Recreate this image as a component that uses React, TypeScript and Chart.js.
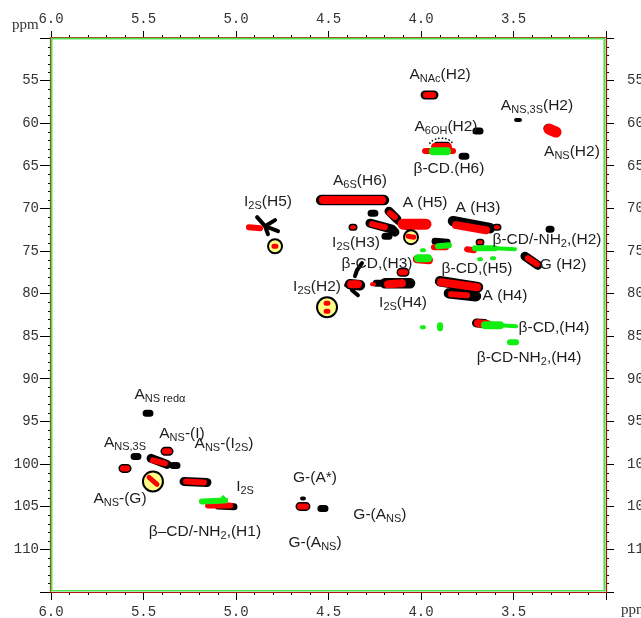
import React, { useEffect, useRef } from 'react';
import { Chart, registerables } from 'chart.js';

Chart.register(...registerables);

type Seg = [number, number, number, number];
type Pt = [number, number];

// ---- axis ranges / ticks (ppm) ----
const xRange: [number, number] = [3.0, 6.0]; // 1H
const yRange: [number, number] = [50, 115]; // 13C
const xMajorStep = 0.5;
const xMinorStep = 0.1;
const yMajorStep = 5;
const yMinorStep = 1;

// ---- cross peaks: [x1(ppm 1H), y1(ppm 13C), x2, y2] ----
const blackPeaksXL: Seg[] = [
  [3.897, 78.54, 3.692, 79.24],
  [3.849, 79.95, 3.703, 80.3],
  [3.827, 71.49, 3.627, 72.31],
  [4.384, 78.89, 4.33, 79.01],
  [4.195, 78.77, 4.059, 78.77],
  [4.54, 69.02, 4.2, 69.02],
];
const blackPeaksL: Seg[] = [
  [3.978, 56.69, 3.93, 56.69],
  [3.314, 60.6, 3.27, 61.0],
  [4.276, 71.73, 4.157, 72.43],
  [4.157, 72.43, 4.141, 72.78],
  [4.173, 70.32, 4.13, 71.26],
  [3.438, 75.6, 3.368, 76.66],
  [5.459, 99.32, 5.373, 100.03],
  [5.281, 102.03, 5.157, 102.14],
  [5.611, 100.5, 5.589, 100.5],
  [5.384, 98.5, 5.362, 98.5],
  [4.654, 104.96, 4.622, 104.96],
  [4.108, 77.48, 4.086, 77.48],
  [3.7, 83.45, 3.655, 83.5],
];
const blackPeaksM: Seg[] = [
  [4.27, 70.55, 4.249, 70.55],
  [4.195, 73.25, 4.173, 73.25],
  [4.373, 72.2, 4.362, 72.2],
  [3.703, 60.92, 3.681, 60.92],
  [3.778, 63.86, 3.757, 63.86],
  [3.914, 62.57, 3.859, 62.57],
  [5.486, 94.04, 5.465, 94.04],
  [5.551, 99.09, 5.53, 99.09],
  [5.341, 100.15, 5.319, 100.15],
  [4.243, 78.77, 4.221, 78.77],
  [3.595, 72.2, 3.584, 72.2],
  [3.308, 72.43, 3.297, 72.43],
  [3.686, 73.96, 3.676, 73.96],
  [3.924, 73.84, 3.859, 73.96],
  [4.541, 105.2, 4.519, 105.2],
  [5.097, 104.9, 5.011, 105.0],
];
const blackPeaksS: Seg[] = [
  [4.886, 71.02, 4.843, 72.08],
  [4.843, 72.08, 4.789, 71.37],
  [4.843, 72.08, 4.773, 72.67],
  [4.843, 72.08, 4.827, 73.02],
  [3.486, 59.63, 3.465, 59.63],
  [4.319, 76.42, 4.346, 77.25],
  [4.346, 77.25, 4.357, 77.95],
  [4.405, 79.0, 4.395, 79.0],
  [4.373, 79.6, 4.341, 80.18],
  [4.13, 71.61, 4.059, 72.55],
  [4.643, 104.02, 4.633, 104.02],
];

const redPeaksXL: Seg[] = [
  [4.097, 71.84, 3.973, 71.84],
  [3.308, 60.69, 3.27, 61.04],
];
const redPeaksL: Seg[] = [
  [3.892, 78.66, 3.697, 79.24],
  [3.811, 71.96, 3.649, 72.55],
  [4.53, 69.02, 4.211, 69.02],
  [4.178, 78.89, 4.103, 78.77],
  [3.924, 62.8, 3.854, 62.8],
  [3.692, 83.47, 3.638, 83.59],
  [4.022, 75.95, 3.957, 76.07],
  [4.378, 78.89, 4.341, 78.89],
];
const redPeaksM: Seg[] = [
  [3.973, 56.69, 3.935, 56.69],
  [4.265, 71.84, 4.195, 72.2],
  [4.168, 70.55, 4.141, 71.02],
  [4.93, 72.2, 4.87, 72.31],
  [3.978, 63.27, 3.827, 63.27],
  [3.751, 74.78, 3.714, 74.9],
  [3.93, 74.54, 3.865, 74.54],
  [3.838, 80.06, 3.751, 80.18],
  [3.422, 75.84, 3.373, 76.54],
  [4.108, 77.48, 4.086, 77.48],
  [5.449, 99.56, 5.384, 99.91],
  [5.27, 102.03, 5.173, 102.14],
  [5.611, 100.5, 5.589, 100.5],
  [5.384, 98.5, 5.362, 98.5],
  [4.654, 104.96, 4.622, 104.96],
  [5.151, 104.84, 5.032, 104.84],
];
const redPeaksS: Seg[] = [
  [4.373, 72.2, 4.362, 72.2],
  [3.595, 72.2, 3.584, 72.2],
  [3.686, 73.96, 3.676, 73.96],
  [4.265, 78.89, 4.254, 78.89],
];
const redPeaksInCircles: Seg[] = [
  [4.795, 74.43, 4.784, 74.43],
  [4.07, 73.25, 4.038, 73.37],
  [4.513, 81.12, 4.503, 81.12],
  [4.513, 82.06, 4.503, 82.06],
  [5.47, 101.56, 5.427, 102.38],
];

const greenPeaksL: Seg[] = [
  [4.016, 75.84, 3.962, 75.84],
  [3.654, 83.7, 3.573, 83.7],
  [3.935, 63.3, 3.86, 63.3],
];
const greenPeaksM: Seg[] = [
  [3.908, 74.43, 3.849, 74.31],
  [3.708, 74.66, 3.6, 74.66],
  [5.184, 104.37, 5.059, 104.26],
  [3.519, 85.7, 3.486, 85.7],
  [3.897, 83.7, 3.897, 84.06],
];
const greenPeaksS: Seg[] = [
  [3.6, 74.66, 3.492, 74.78],
  [3.686, 75.95, 3.676, 75.95],
  [3.616, 75.84, 3.605, 75.84],
  [3.995, 74.9, 3.984, 74.9],
  [3.995, 83.94, 3.984, 83.94],
  [3.573, 83.7, 3.486, 83.82],
  [5.07, 103.9, 5.06, 104.3],
];

// highlighted (circled) signals
const circledSmall: Pt[] = [
  [4.789, 74.43],
  [4.054, 73.37],
];
const circledLarge: Pt[] = [
  [4.508, 81.59],
  [5.449, 102.03],
];

// dotted envelope over A6OH(H2)
const dottedArc: Pt[] = [
  [3.955, 62.4],
  [3.93, 61.95],
  [3.89, 61.75],
  [3.85, 61.95],
  [3.825, 62.4],
];

// ---- assignments: text, x (ppm), y (ppm) of text centre ----
const labelTexts: string[] = [
  'A_{NAc}(H2)', 'A_{NS,3S}(H2)', 'A_{6OH}(H2)', 'β-CD.(H6)', 'A_{NS}(H2)',
  'A_{6S}(H6)', 'I_{2S}(H5)', 'A (H5)', 'A (H3)', 'β-CD/-NH_{2},(H2)',
  'I_{2S}(H3)', 'G (H2)', 'β-CD,(H3)', 'β-CD,(H5)', 'I_{2S}(H2)',
  'I_{2S}(H4)', 'A (H4)', 'β-CD,(H4)', 'β-CD-NH_{2},(H4)', 'A_{NS redα}',
  'A_{NS,3S}', 'A_{NS}-(I)', 'A_{NS}-(I_{2S})', 'I_{2S}', 'A_{NS}-(G)',
  'β–CD/-NH_{2},(H1)', 'G-(A*)', 'G-(A_{NS})', 'G-(A_{NS})',
];
const labelX: number[] = [
  3.897, 3.373, 3.865, 3.849, 3.184,
  4.33, 4.827, 3.978, 3.692, 3.319,
  4.351, 3.232, 4.238, 3.697, 4.562,
  4.097, 3.546, 3.281, 3.416, 5.411,
  5.6, 5.292, 5.065, 4.951, 5.627,
  5.168, 4.573, 4.222, 4.573,
];
const labelY: number[] = [
  54.11, 57.75, 60.22, 65.15, 63.15,
  66.56, 69.03, 69.14, 69.73, 73.49,
  73.84, 76.42, 76.31, 76.89, 79.01,
  80.89, 80.06, 83.82, 87.35, 91.69,
  97.33, 96.27, 97.45, 102.5, 103.9,
  107.78, 101.44, 105.78, 109.07,
];

const segData = (segs: Seg[]) =>
  segs.flatMap(([x1, y1, x2, y2]) => [
    { x: x1, y: y1 },
    { x: x2, y: y2 },
    { x: x2, y: null as any },
  ]);

const peakSet = (data: Seg[], color: string, width: number, order: number) => ({
  data: segData(data),
  borderColor: color,
  backgroundColor: color,
  borderWidth: width,
  borderCapStyle: 'round',
  borderJoinStyle: 'round',
  pointRadius: 0,
  pointHoverRadius: 0,
  fill: false,
  tension: 0,
  spanGaps: false,
  order,
});

const circleSet = (pts: Pt[], r: number, order: number) => ({
  data: pts.map(([x, y]) => ({ x, y })),
  showLine: false,
  pointStyle: 'circle',
  pointRadius: r,
  pointHoverRadius: r,
  pointBorderWidth: 2,
  pointBackgroundColor: '#ffff88',
  pointBorderColor: '#000',
  order,
});

const TICK_FONT = { family: '"Liberation Mono", "DejaVu Sans Mono", monospace', size: 14 };
const TICK_COLOR = '#333';

function drawRich(ctx: CanvasRenderingContext2D, text: string, cx: number, cy: number) {
  const parts: { t: string; sub: boolean }[] = [];
  let i = 0;
  let buf = '';
  while (i < text.length) {
    if (text[i] === '_' && text[i + 1] === '{') {
      if (buf) parts.push({ t: buf, sub: false });
      buf = '';
      const j = text.indexOf('}', i);
      parts.push({ t: text.slice(i + 2, j), sub: true });
      i = j + 1;
    } else {
      buf += text[i];
      i++;
    }
  }
  if (buf) parts.push({ t: buf, sub: false });
  const MAIN = '15.5px "Liberation Sans", Arial, sans-serif';
  const SUB = '11px "Liberation Sans", Arial, sans-serif';
  let total = 0;
  const ws = parts.map((p) => {
    ctx.font = p.sub ? SUB : MAIN;
    const w = ctx.measureText(p.t).width;
    total += w;
    return w;
  });
  let x = cx - total / 2;
  const base = cy + 5.5;
  ctx.textAlign = 'left';
  ctx.textBaseline = 'alphabetic';
  ctx.fillStyle = '#1e1e1e';
  parts.forEach((p, k) => {
    ctx.font = p.sub ? SUB : MAIN;
    ctx.fillText(p.t, x, p.sub ? base + 3 : base);
    x += ws[k];
  });
}

const annotPlugin = {
  id: 'nmrAnnot',
  afterDraw(chart: any) {
    const { ctx, chartArea: a, scales } = chart;
    const xs = scales.x;
    const ys = scales.y;
    ctx.save();
    // minor ticks
    ctx.strokeStyle = '#000';
    ctx.lineWidth = 1;
    ctx.beginPath();
    const nx = Math.round((xRange[1] - xRange[0]) / xMinorStep);
    for (let k = 0; k <= nx; k++) {
      const v = xRange[0] + k * xMinorStep;
      if (Math.abs(v / xMajorStep - Math.round(v / xMajorStep)) < 1e-6) continue;
      const px = Math.round(xs.getPixelForValue(v)) + 0.5;
      ctx.moveTo(px, a.top);
      ctx.lineTo(px, a.top - 3);
      ctx.moveTo(px, a.bottom);
      ctx.lineTo(px, a.bottom + 3);
    }
    const ny = Math.round((yRange[1] - yRange[0]) / yMinorStep);
    for (let k = 0; k <= ny; k++) {
      const v = yRange[0] + k * yMinorStep;
      if (v % yMajorStep === 0) continue;
      const py = Math.round(ys.getPixelForValue(v)) + 0.5;
      ctx.moveTo(a.left, py);
      ctx.lineTo(a.left - 3, py);
      ctx.moveTo(a.right, py);
      ctx.lineTo(a.right + 3, py);
    }
    ctx.stroke();

    // frame (overlaid spectra borders)
    ctx.lineWidth = 1.2;
    ctx.strokeStyle = '#a0522d';
    ctx.beginPath();
    ctx.moveTo(a.left - 0.5, a.bottom);
    ctx.lineTo(a.left - 0.5, a.top - 0.5);
    ctx.lineTo(a.right, a.top - 0.5);
    ctx.stroke();
    ctx.strokeStyle = '#b01010';
    ctx.beginPath();
    ctx.moveTo(a.right + 0.5, a.top - 0.5);
    ctx.lineTo(a.right + 0.5, a.bottom + 0.5);
    ctx.lineTo(a.left - 0.5, a.bottom + 0.5);
    ctx.stroke();
    ctx.strokeStyle = '#22dd22';
    ctx.lineWidth = 1.2;
    ctx.strokeRect(a.left + 0.8, a.top + 0.8, a.right - a.left - 2, a.bottom - a.top - 2);
    ctx.strokeStyle = '#99ee99';
    ctx.lineWidth = 1;
    ctx.beginPath();
    ctx.moveTo(a.right - 2.5, a.top + 2);
    ctx.lineTo(a.right - 2.5, a.bottom - 2);
    ctx.stroke();

    // assignments
    labelTexts.forEach((t, k) => {
      drawRich(ctx, t, xs.getPixelForValue(labelX[k]), ys.getPixelForValue(labelY[k]));
    });

    // unit labels
    ctx.font = '15px "Liberation Serif", "Times New Roman", serif';
    ctx.fillStyle = TICK_COLOR;
    ctx.textAlign = 'left';
    ctx.textBaseline = 'alphabetic';
    ctx.fillText('ppm', a.left - 39, a.top - 9);
    ctx.fillText('ppm', a.right + 15, a.bottom + 22);
    ctx.restore();
  },
};

const xTickCb = (v: any) => (Math.abs(Number(v) - xRange[0]) < 1e-6 ? '' : Number(v).toFixed(1));
const yTickCb = (v: any) => {
  const n = Number(v);
  return n <= yRange[0] || n >= yRange[1] ? '' : String(Math.round(n));
};

export default function App() {
  const ref = useRef<HTMLCanvasElement | null>(null);
  useEffect(() => {
    if (!ref.current) return;
    const xCommon = {
      type: 'linear',
      min: xRange[0],
      max: xRange[1],
      reverse: true,
      border: { display: false },
      grid: { drawOnChartArea: false, drawTicks: true, tickColor: '#000', tickWidth: 1 },
    };
    const yCommon = {
      type: 'linear',
      min: yRange[0],
      max: yRange[1],
      reverse: true,
      border: { display: false },
      grid: { drawOnChartArea: false, drawTicks: true, tickColor: '#000', tickWidth: 1 },
    };
    const chart = new Chart(ref.current, {
      type: 'line',
      data: {
        datasets: [
          peakSet(blackPeaksXL, '#000', 10.5, 60),
          peakSet(blackPeaksL, '#000', 9, 60),
          peakSet(blackPeaksM, '#000', 7, 60),
          peakSet(blackPeaksS, '#000', 4, 60),
          peakSet(redPeaksXL, '#ff0000', 11, 50),
          peakSet(redPeaksL, '#ff0000', 8, 50),
          peakSet(redPeaksM, '#ff0000', 6, 50),
          peakSet(redPeaksS, '#ff0000', 4, 50),
          peakSet(greenPeaksL, '#11ee11', 8, 40),
          peakSet(greenPeaksM, '#11ee11', 6, 40),
          peakSet(greenPeaksS, '#11ee11', 4, 40),
          {
            data: dottedArc.map(([x, y]) => ({ x, y })),
            borderColor: '#000',
            borderWidth: 1.5,
            borderDash: [1.5, 2],
            pointRadius: 0,
            fill: false,
            tension: 0.4,
            order: 35,
          },
          circleSet(circledSmall, 7, 30),
          circleSet(circledLarge, 10, 30),
          peakSet(redPeaksInCircles, '#ff0000', 5, 20),
        ] as any,
      },
      options: {
        animation: false,
        responsive: false,
        events: [],
        layout: { padding: 0 },
        plugins: { legend: { display: false }, tooltip: { enabled: false } },
        scales: {
          x: {
            ...xCommon,
            position: 'bottom',
            afterFit: (s: any) => { s.height = 26; },
            grid: { ...xCommon.grid, tickLength: 8 },
            ticks: { stepSize: xMajorStep, autoSkip: false, maxRotation: 0, padding: 4, font: TICK_FONT, color: TICK_COLOR, callback: xTickCb },
          },
          x2: {
            ...xCommon,
            position: 'top',
            afterFit: (s: any) => { s.height = 38; },
            grid: { ...xCommon.grid, tickLength: 7 },
            ticks: { stepSize: xMajorStep, autoSkip: false, maxRotation: 0, padding: 3, font: TICK_FONT, color: TICK_COLOR, callback: xTickCb },
          },
          y: {
            ...yCommon,
            position: 'left',
            afterFit: (s: any) => { s.width = 51; },
            grid: { ...yCommon.grid, tickLength: 11 },
            ticks: { stepSize: yMajorStep, autoSkip: false, padding: 1, font: TICK_FONT, color: TICK_COLOR, callback: yTickCb },
          },
          y2: {
            ...yCommon,
            position: 'right',
            afterFit: (s: any) => { s.width = 35; },
            grid: { ...yCommon.grid, tickLength: 8 },
            ticks: { stepSize: yMajorStep, autoSkip: false, padding: 13, font: TICK_FONT, color: TICK_COLOR, callback: yTickCb },
          },
        } as any,
      },
      plugins: [annotPlugin],
    });
    return () => chart.destroy();
  }, []);
  return (
    <div style={{ position: 'absolute', left: 0, top: 0, width: 641, height: 618, background: '#fff' }}>
      <canvas ref={ref} width={641} height={618} style={{ display: 'block' }} />
    </div>
  );
}
